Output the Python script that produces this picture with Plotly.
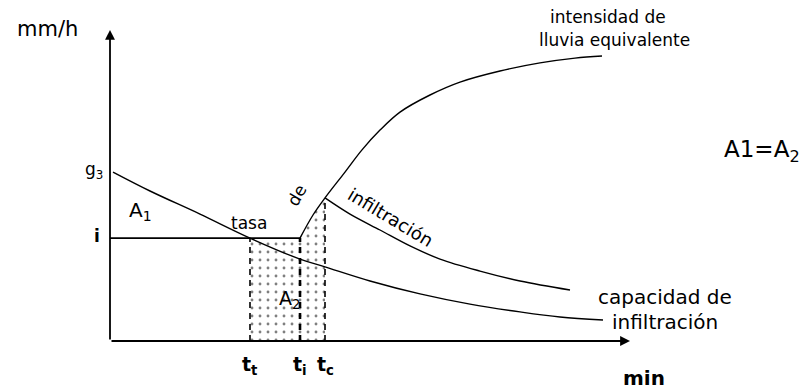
import plotly.graph_objects as go

# Infiltration diagram: capacity curve, equivalent rainfall intensity, ponding times
# x in minutes from the origin, y in mm/h

# Infiltration capacity curve (Horton-type decay from g3)
cap_t = [0.6, 8, 18, 28, 38, 43, 52, 62, 72, 82, 90, 98.6]
cap_f = [56.3, 50, 42.3, 34.3, 27.3, 24.7, 20, 15.7, 12.3, 9.7, 8, 7]

# Equivalent rainfall intensity (rises after t_i)
rain_t = [38, 40.6, 43, 47, 50.4, 54, 58, 64, 70, 78, 86, 93, 98.4]
rain_i = [34.3, 42, 47.7, 56.3, 63.7, 70.3, 76.3, 82, 86.3, 90, 92.7, 94.3, 95]

# Shifted infiltration rate curve starting at t_c
inf_t = [43, 48, 54, 60, 66, 74, 82, 92]
inf_f = [47.7, 42.3, 37, 31.7, 27.3, 23.3, 20, 17]

# Constant intensity i and characteristic times
i_level = 34.3
g3 = 56.3
t_t, t_i, t_c = 28, 38, 43
tick_times = [t_t, t_i, t_c]
tick_labels = ["t<sub>t</sub>", "t<sub>i</sub>", "t<sub>c</sub>"]

FONT = "DejaVu Sans"
BLACK = "#000000"

fig = go.Figure()

# Dotted area A2 between t_t and t_c under the rainfall line
area_x = [t_t, t_t, t_i] + rain_t[1:3] + [t_c, t_t]
area_y = [0, i_level, i_level] + rain_i[1:3] + [0, 0]
fig.add_trace(go.Scatter(
    x=area_x, y=area_y, mode="lines", line=dict(width=0),
    fill="toself", fillcolor="rgba(255,255,255,0)",
    fillpattern=dict(shape=".", size=8, solidity=0.1,
                     fgcolor=BLACK, bgcolor="rgba(255,255,255,0)"),
    hoverinfo="skip", showlegend=False))

# Constant intensity i up to t_i
fig.add_trace(go.Scatter(x=[0, t_i], y=[i_level, i_level], mode="lines",
                         line=dict(color=BLACK, width=1.6), showlegend=False))
# Capacity curve
fig.add_trace(go.Scatter(x=cap_t, y=cap_f, mode="lines",
                         line=dict(color=BLACK, width=1.4, shape="spline"),
                         showlegend=False))
# Rainfall intensity curve
fig.add_trace(go.Scatter(x=rain_t, y=rain_i, mode="lines",
                         line=dict(color=BLACK, width=1.4, shape="spline"),
                         showlegend=False))
# Infiltration rate curve after t_c
fig.add_trace(go.Scatter(x=inf_t, y=inf_f, mode="lines",
                         line=dict(color=BLACK, width=1.4, shape="spline"),
                         showlegend=False))

# Dashed verticals at the characteristic times
tops = [i_level, i_level, rain_i[2]]
widths = [1.6, 2.6, 1.6]
for t, top, w in zip(tick_times, tops, widths):
    fig.add_trace(go.Scatter(x=[t, t], y=[0, top], mode="lines",
                             line=dict(color=BLACK, width=w, dash="6px,5px"),
                             showlegend=False))

# Axes with arrow heads
x_end, y_end = 104, 103.7
fig.add_annotation(x=x_end, y=0, ax=0, ay=0, xref="x", yref="y", axref="x", ayref="y",
                   showarrow=True, arrowhead=2, arrowsize=1.1, arrowwidth=1.8,
                   arrowcolor=BLACK, text="")
fig.add_annotation(x=0, y=y_end, ax=0, ay=0, xref="x", yref="y", axref="x", ayref="y",
                   showarrow=True, arrowhead=2, arrowsize=1.1, arrowwidth=1.8,
                   arrowcolor=BLACK, text="")

def label(x, y, text, size=17, angle=0, weight="normal"):
    fig.add_annotation(x=x, y=y, xref="x", yref="y", text=text, showarrow=False,
                       textangle=angle,
                       font=dict(family=FONT, size=size, color=BLACK, weight=weight))

for t, lab in zip(tick_times, tick_labels):
    label(t, -8.3, lab, size=19, weight="bold")

label(-12.6, 104, "mm/h", size=21)
label(-3.2, 57, "g<sub>3</sub>", size=17)
label(-2.6, 35, "i", size=17, weight="bold")
label(6.0, 43.5, "A<sub>1</sub>", size=20)
label(27.8, 39.3, "tasa", size=17)
label(37.2, 48.5, "de", size=17, angle=-60)
label(56.2, 41.3, "infiltración", size=18, angle=31)
label(99.5, 108, "intensidad de", size=17)
label(100.9, 100.3, "lluvia equivalente", size=17)
label(35.8, 13.7, "A<sub>2</sub>", size=19)
label(130.4, 63.3, "A1=A<sub>2</sub>", size=23)
label(111, 14.7, "capacidad de", size=20)
label(111, 6.3, "infiltración", size=20)
label(106.8, -12.3, "min", size=20, weight="bold")

fig.update_layout(
    width=803, height=390, margin=dict(l=0, r=0, t=0, b=0),
    paper_bgcolor="white", plot_bgcolor="white",
    font=dict(family=FONT, size=17, color=BLACK),
    xaxis=dict(range=[-22, 138.6], visible=False, fixedrange=True),
    yaxis=dict(range=[-16.333, 113.667], visible=False, fixedrange=True),
    showlegend=False,
)

fig.write_html("out.html")
